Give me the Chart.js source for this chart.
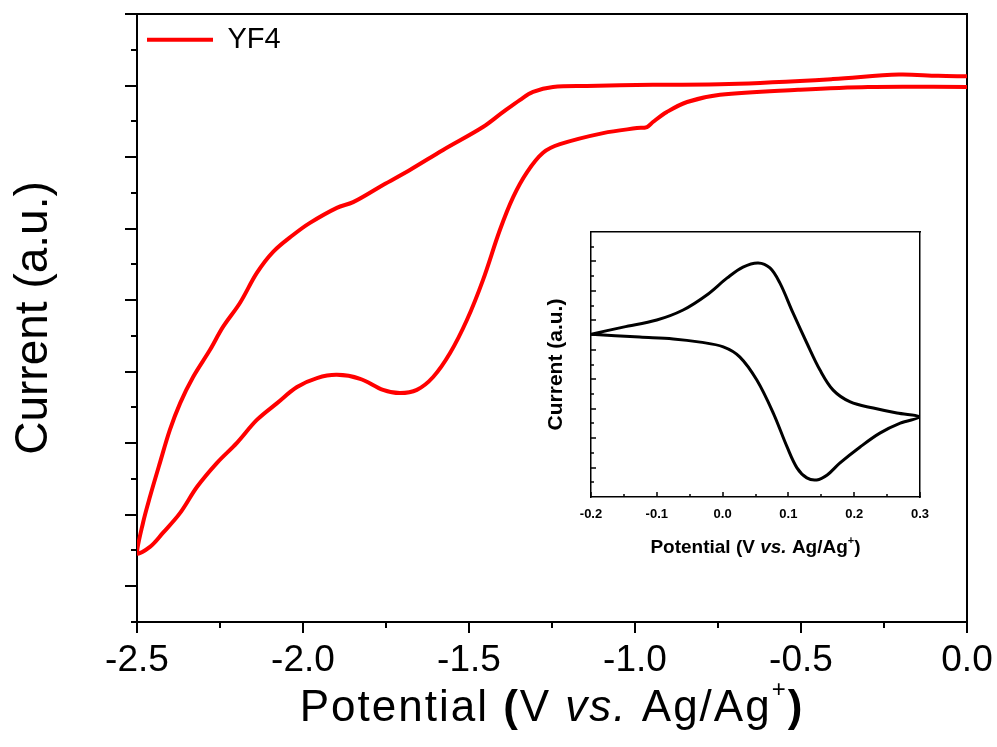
<!DOCTYPE html>
<html>
<head>
<meta charset="utf-8">
<script src="https://cdn.jsdelivr.net/npm/chart.js@4.4.0/dist/chart.umd.min.js"></script>
<style>
  body { margin: 0; background: #fff; }
  #wrap { position: relative; width: 997px; height: 747px; }
  #mainChart { position: absolute; left: 0; top: 0; }
  #insetChart { position: absolute; left: 530px; top: 222px; }
</style>
</head>
<body>
<div id="wrap">
  <canvas id="mainChart" width="997" height="747"></canvas>
  <canvas id="insetChart" width="405" height="345"></canvas>
</div>
<script>
const FONT = 'Arial, "Liberation Sans", Helvetica, sans-serif';

// main CV of YF4 : scan from 0 V down to -2.5 V ...
const cathodicPotential = [0.0, -0.087, -0.205, -0.404, -0.717, -0.946, -1.145, -1.247, -1.307, -1.346, -1.40, -1.458, -1.578, -1.678, -1.759, -1.849, -1.898, -1.979, -2.030, -2.090, -2.139, -2.190, -2.241, -2.280, -2.331, -2.370, -2.401, -2.431, -2.461, -2.482, -2.5];
const cathodicCurrent = [15.26, 15.27, 15.31, 15.18, 15.04, 15.02, 14.99, 14.96, 14.82, 14.60, 14.24, 13.84, 13.20, 12.64, 12.22, 11.74, 11.58, 11.16, 10.82, 10.35, 9.76, 8.92, 8.25, 7.61, 6.85, 6.12, 5.37, 4.45, 3.50, 2.77, 1.93];
// ... and back to 0 V
const anodicPotential = [-2.461, -2.422, -2.370, -2.319, -2.259, -2.199, -2.139, -2.078, -2.018, -1.958, -1.898, -1.828, -1.759, -1.708, -1.657, -1.608, -1.557, -1.506, -1.458, -1.407, -1.367, -1.325, -1.277, -1.226, -1.096, -0.994, -0.964, -0.946, -0.904, -0.843, -0.744, -0.509, -0.298, 0.0];
const anodicCurrent = [2.10, 2.49, 3.05, 3.78, 4.45, 5.01, 5.65, 6.12, 6.57, 6.82, 6.91, 6.80, 6.49, 6.40, 6.49, 6.85, 7.52, 8.45, 9.56, 10.96, 11.88, 12.58, 13.12, 13.36, 13.67, 13.81, 13.84, 13.98, 14.26, 14.54, 14.74, 14.88, 14.96, 14.96];

// inset : ferrocene reference
const insetOxPotential = [-0.2, -0.151, -0.100, -0.060, -0.024, 0.007, 0.031, 0.054, 0.072, 0.087, 0.107, 0.128, 0.148, 0.168, 0.194, 0.229, 0.265, 0.3];
const insetOxCurrent = [5.53, 5.77, 6.01, 6.35, 6.86, 7.44, 7.81, 7.95, 7.78, 7.27, 6.25, 5.23, 4.31, 3.63, 3.23, 3.02, 2.85, 2.72];
const insetRedPotential = [0.270, 0.239, 0.209, 0.178, 0.159, 0.143, 0.128, 0.113, 0.098, 0.077, 0.052, 0.026, 0.001, -0.034, -0.075, -0.126, -0.2];
const insetRedCurrent = [2.51, 2.17, 1.70, 1.15, 0.75, 0.58, 0.65, 0.99, 1.70, 2.85, 3.97, 4.76, 5.10, 5.26, 5.37, 5.43, 5.53];

// ticks
const mainXTicks = [-2.5, -2.0, -1.5, -1.0, -0.5, 0.0];
const mainXMinor = [-2.25, -1.75, -1.25, -0.75, -0.25];
const mainYMajor = [1, 3, 5, 7, 9, 11, 13, 15, 17];
const mainYMinor = [0, 2, 4, 6, 8, 10, 12, 14, 16];
const insetXTicks = [-0.2, -0.1, 0.0, 0.1, 0.2, 0.3];
const insetXMinor = [-0.15, -0.05, 0.05, 0.15, 0.25];
const insetYMajor = [1, 2, 3, 4, 5, 6, 7, 8];
const insetYMinor = [0.5, 1.5, 2.5, 3.5, 4.5, 5.5, 6.5, 7.5, 8.5];

function toPoints(xs, ys) {
  return xs.map(function (x, i) { return { x: x, y: ys[i] }; });
}

// petits traits de graduation (majeurs / mineurs, vers l'exterieur ou l'interieur)
const tickMarks = {
  id: 'tickMarks',
  afterDraw(chart, args, opts) {
    if (!opts.sets) return;
    const ctx = chart.ctx;
    const area = chart.chartArea;
    ctx.save();
    ctx.strokeStyle = '#000';
    opts.sets.forEach(function (s) {
      const scale = chart.scales[s.axis];
      ctx.lineWidth = s.width;
      s.values.forEach(function (v) {
        const p = Math.round(scale.getPixelForValue(v));
        ctx.beginPath();
        if (scale.isHorizontal()) {
          ctx.moveTo(p, area.bottom);
          ctx.lineTo(p, area.bottom + s.dir * s.length);
        } else {
          ctx.moveTo(area.left, p);
          ctx.lineTo(area.left - s.dir * s.length, p);
        }
        ctx.stroke();
      });
    });
    ctx.restore();
  }
};

// titre de l'axe x avec italique et exposant
const richTitle = {
  id: 'richTitle',
  afterDraw(chart, args, opts) {
    if (!opts.parts) return;
    const ctx = chart.ctx;
    ctx.save();
    ctx.fillStyle = '#000';
    ctx.textBaseline = 'alphabetic';
    ctx.letterSpacing = opts.spacing || '0px';
    const cx = (chart.chartArea.left + chart.chartArea.right) / 2;
    let total = 0;
    opts.parts.forEach(function (p) { ctx.font = p.font; total += ctx.measureText(p.text).width; });
    let x = cx - total / 2;
    opts.parts.forEach(function (p) {
      ctx.font = p.font;
      ctx.fillText(p.text, x, opts.baseline - (p.rise || 0));
      x += ctx.measureText(p.text).width;
    });
    ctx.restore();
  }
};

Chart.register(tickMarks, richTitle);

const noGrid = { display: false, drawTicks: false };
const blackBorder = { display: true, color: '#000', width: 2 };

function noEdgePadding(s) {
  s.paddingLeft = 0;
  s.paddingRight = 0;
  s.paddingTop = 0;
  s.paddingBottom = 0;
}

new Chart(document.getElementById('mainChart'), {
  type: 'scatter',
  data: {
    datasets: [{
      label: 'YF4',
      data: toPoints(cathodicPotential.concat(anodicPotential), cathodicCurrent.concat(anodicCurrent)),
      showLine: true,
      borderColor: '#ff0000',
      backgroundColor: '#ff0000',
      borderWidth: 4,
      pointRadius: 0,
      tension: 0.35
    }]
  },
  options: {
    responsive: false,
    animation: false,
    layout: { padding: { left: 0, right: 30, top: 14, bottom: 0 } },
    plugins: {
      legend: {
        position: 'chartArea',
        align: 'start',
        title: { display: true, text: ' ', font: { size: 1 }, padding: { top: 0, bottom: 14 } },
        labels: {
          usePointStyle: true,
          pointStyle: 'line',
          pointStyleWidth: 66,
          padding: 10,
          color: '#000',
          font: { family: FONT, size: 29 }
        }
      },
      tooltip: { enabled: false },
      tickMarks: {
        sets: [
          { axis: 'x', values: mainXTicks, length: 11, dir: 1, width: 2 },
          { axis: 'x', values: mainXMinor, length: 6, dir: 1, width: 2 },
          { axis: 'y', values: mainYMajor, length: 12, dir: 1, width: 2 },
          { axis: 'y', values: mainYMinor, length: 6, dir: 1, width: 2 }
        ]
      },
      richTitle: {
        baseline: 721,
        spacing: '2px',
        parts: [
          { text: 'Potential ', font: '44px ' + FONT },
          { text: '(', font: 'bold 44px ' + FONT },
          { text: 'V ', font: '44px ' + FONT },
          { text: 'vs.', font: 'italic 44px ' + FONT },
          { text: ' Ag/Ag', font: '44px ' + FONT },
          { text: '+', font: '24px ' + FONT, rise: 24 },
          { text: ')', font: 'bold 44px ' + FONT }
        ]
      }
    },
    scales: {
      x: {
        type: 'linear',
        position: 'bottom',
        min: -2.5,
        max: 0,
        afterFit: function (s) { s.height = 125; noEdgePadding(s); },
        afterBuildTicks: function (s) { s.ticks = mainXTicks.map(function (v) { return { value: v }; }); },
        ticks: {
          autoSkip: false,
          maxRotation: 0,
          padding: 17,
          color: '#000',
          font: { family: FONT, size: 37 },
          callback: function (v) { return v.toFixed(1); }
        },
        grid: noGrid,
        border: blackBorder
      },
      y: {
        type: 'linear',
        position: 'left',
        min: 0,
        max: 17,
        afterFit: function (s) { s.width = 137; noEdgePadding(s); },
        ticks: { display: false },
        grid: noGrid,
        border: blackBorder,
        title: {
          display: true,
          text: 'Current (a.u.)',
          color: '#000',
          font: { family: FONT, size: 46 },
          padding: { top: 7, bottom: 0 }
        }
      },
      x2: {
        type: 'linear', position: 'top', min: 0, max: 1,
        afterFit: function (s) { s.height = 0; noEdgePadding(s); },
        ticks: { display: false }, grid: noGrid, border: blackBorder
      },
      y2: {
        type: 'linear', position: 'right', min: 0, max: 1,
        afterFit: function (s) { s.width = 0; noEdgePadding(s); },
        ticks: { display: false }, grid: noGrid, border: blackBorder
      }
    }
  }
});

const thinBorder = { display: true, color: '#000', width: 1.5 };

new Chart(document.getElementById('insetChart'), {
  type: 'scatter',
  data: {
    datasets: [{
      label: 'Fc',
      data: toPoints(insetOxPotential.concat(insetRedPotential), insetOxCurrent.concat(insetRedCurrent)),
      showLine: true,
      borderColor: '#000',
      borderWidth: 3,
      pointRadius: 0,
      tension: 0.35
    }]
  },
  options: {
    responsive: false,
    animation: false,
    layout: { padding: { left: 0, right: 15, top: 10, bottom: 0 } },
    plugins: {
      legend: { display: false },
      tooltip: { enabled: false },
      tickMarks: {
        sets: [
          { axis: 'x', values: insetXTicks, length: 5, dir: -1, width: 1.5 },
          { axis: 'x', values: insetXMinor, length: 3, dir: -1, width: 1.5 },
          { axis: 'y', values: insetYMajor, length: 5, dir: -1, width: 1.5 },
          { axis: 'y', values: insetYMinor, length: 3, dir: -1, width: 1.5 }
        ]
      },
      richTitle: {
        baseline: 331,
        parts: [
          { text: 'Potential (V ', font: 'bold 19px ' + FONT },
          { text: 'vs.', font: 'italic bold 19px ' + FONT },
          { text: ' Ag/Ag', font: 'bold 19px ' + FONT },
          { text: '+', font: 'bold 11px ' + FONT, rise: 9 },
          { text: ')', font: 'bold 19px ' + FONT }
        ]
      }
    },
    scales: {
      x: {
        type: 'linear',
        position: 'bottom',
        min: -0.2,
        max: 0.3,
        afterFit: function (s) { s.height = 70; noEdgePadding(s); },
        afterBuildTicks: function (s) { s.ticks = insetXTicks.map(function (v) { return { value: v }; }); },
        ticks: {
          autoSkip: false,
          maxRotation: 0,
          padding: 10,
          color: '#000',
          font: { family: FONT, size: 13, weight: 'bold' },
          callback: function (v) { return v.toFixed(1); }
        },
        grid: noGrid,
        border: thinBorder
      },
      y: {
        type: 'linear',
        position: 'left',
        min: 0,
        max: 9,
        afterFit: function (s) { s.width = 61; noEdgePadding(s); },
        ticks: { display: false },
        grid: noGrid,
        border: thinBorder,
        title: {
          display: true,
          text: 'Current (a.u.)',
          color: '#000',
          font: { family: FONT, size: 21, weight: 'bold' },
          padding: { top: 14, bottom: 0 }
        }
      },
      x2: {
        type: 'linear', position: 'top', min: 0, max: 1,
        afterFit: function (s) { s.height = 0; noEdgePadding(s); },
        ticks: { display: false }, grid: noGrid, border: thinBorder
      },
      y2: {
        type: 'linear', position: 'right', min: 0, max: 1,
        afterFit: function (s) { s.width = 0; noEdgePadding(s); },
        ticks: { display: false }, grid: noGrid, border: thinBorder
      }
    }
  }
});
</script>
</body>
</html>
